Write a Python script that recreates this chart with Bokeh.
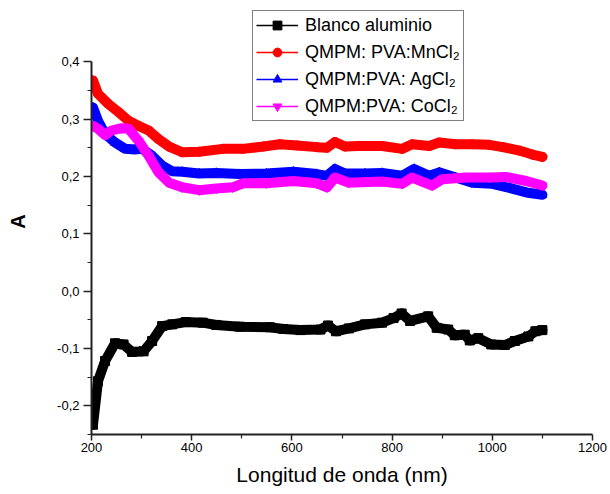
from bokeh.plotting import figure
from bokeh.models import (Range1d, FixedTicker, CustomJSTickFormatter, Legend, LegendItem)
from bokeh.embed import file_html
from bokeh.resources import INLINE

# ---- data ----
black_x = [203, 213, 227, 247, 264, 281, 304, 321, 341, 361, 388, 422, 449, 496, 556, 583, 617,
           657, 672, 688, 714, 746, 780, 803, 819, 836, 872, 889, 912, 925, 945, 955, 972, 998,
           1025, 1045, 1072, 1086, 1100]
black_y = [-0.233, -0.157, -0.122, -0.091, -0.093, -0.106, -0.105, -0.087, -0.061, -0.058, -0.054,
           -0.055, -0.059, -0.062, -0.063, -0.066, -0.068, -0.067, -0.060, -0.070, -0.065, -0.058,
           -0.055, -0.047, -0.039, -0.052, -0.044, -0.064, -0.067, -0.077, -0.076, -0.086, -0.082,
           -0.093, -0.094, -0.087, -0.079, -0.070, -0.068]

red_x = [203, 213, 234, 254, 274, 294, 314, 334, 355, 381, 415, 462, 502, 543, 576, 610, 650, 670,
         686, 706, 733, 780, 820, 840, 874, 894, 927, 960, 994, 1021, 1054, 1080, 1100]
red_y = [0.367, 0.344, 0.326, 0.312, 0.297, 0.288, 0.280, 0.265, 0.252, 0.242, 0.243, 0.248, 0.248,
         0.252, 0.256, 0.254, 0.251, 0.250, 0.260, 0.252, 0.253, 0.253, 0.248, 0.256, 0.253, 0.259,
         0.256, 0.256, 0.255, 0.251, 0.245, 0.238, 0.234]

blue_x = [203, 213, 227, 247, 267, 287, 301, 321, 341, 361, 381, 415, 449, 496, 549, 603, 650, 670,
          686, 706, 746, 780, 820, 844, 874, 894, 927, 960, 1000, 1034, 1068, 1100]
blue_y = [0.320, 0.297, 0.274, 0.259, 0.248, 0.247, 0.248, 0.236, 0.219, 0.209, 0.208, 0.205, 0.206,
          0.204, 0.205, 0.208, 0.204, 0.201, 0.213, 0.205, 0.205, 0.206, 0.201, 0.213, 0.201, 0.207,
          0.198, 0.189, 0.187, 0.180, 0.172, 0.168]

mag_x = [203, 213, 227, 240, 260, 274, 294, 314, 334, 355, 381, 415, 449, 482, 502, 549, 603, 650,
         670, 686, 713, 780, 820, 840, 880, 900, 947, 994, 1027, 1068, 1100]
mag_y = [0.288, 0.283, 0.272, 0.280, 0.284, 0.283, 0.262, 0.236, 0.207, 0.189, 0.181, 0.176, 0.179,
         0.181, 0.188, 0.188, 0.192, 0.188, 0.181, 0.198, 0.189, 0.191, 0.187, 0.198, 0.184, 0.195,
         0.198, 0.198, 0.199, 0.192, 0.184]

labels = ["Blanco aluminio", "QMPM: PVA:MnCl\u2082", "QMPM:PVA: AgCl\u2082", "QMPM:PVA: CoCl\u2082"]
colors = ["#000000", "#FF0000", "#0000FF", "#FF00FF"]
markers = ["square", "circle", "triangle", "inverted_triangle"]

y_ticks = [-0.2, -0.1, 0.0, 0.1, 0.2, 0.3, 0.4]
y_minor = [-0.25, -0.15, -0.05, 0.05, 0.15, 0.25, 0.35]
x_ticks = [200, 400, 600, 800, 1000, 1200]
x_minor = [300, 500, 700, 900, 1100]

FONT = "Liberation Sans"

p = figure(width=610, height=494, output_backend="svg", toolbar_location=None,
           x_range=Range1d(200, 1200), y_range=Range1d(-0.25, 0.4927),
           min_border_left=91, min_border_right=18, min_border_top=8, min_border_bottom=60)
p.outline_line_color = None
p.xgrid.visible = False
p.ygrid.visible = False
p.background_fill_color = "white"
p.border_fill_color = "white"

series = [(black_x, black_y), (red_x, red_y), (blue_x, blue_y), (mag_x, mag_y)]
items = []
for (xs, ys), c, m, lab in zip(series, colors, markers, labels):
    sr = p.scatter(xs, ys, marker=m, size=9, fill_color=c, line_color=c)
    p.line(xs, ys, line_color=c, line_width=10, line_join="round", line_cap="round")
    lr = p.line(xs, ys, line_color=c, line_width=1.5)
    items.append(LegendItem(label=lab, renderers=[lr, sr]))

legend = Legend(items=items, location=(161, 313), orientation="vertical",
                label_text_font=FONT, label_text_font_size="18px", label_text_color="black",
                glyph_width=42, glyph_height=22, label_height=22, label_standoff=7,
                spacing=5, padding=3, margin=0,
                border_line_color="black", border_line_width=1,
                background_fill_color="white", background_fill_alpha=1.0)
p.add_layout(legend, "center")

fmt = CustomJSTickFormatter(code="return tick.toFixed(1).replace('.', ',');")
p.yaxis.ticker = FixedTicker(ticks=y_ticks, minor_ticks=y_minor)
p.yaxis.formatter = fmt
p.yaxis.bounds = (-0.25, 0.4)
p.xaxis.ticker = FixedTicker(ticks=x_ticks, minor_ticks=x_minor)

for ax in (p.xaxis[0], p.yaxis[0]):
    ax.axis_line_color = "#222222"
    ax.axis_line_width = 2
    ax.major_tick_line_color = "#222222"
    ax.minor_tick_line_color = "#222222"
    ax.major_tick_line_width = 1.5
    ax.minor_tick_line_width = 1.2
    ax.major_tick_in = 0
    ax.minor_tick_in = 0
    ax.major_label_text_font = FONT
    ax.major_label_text_font_size = "13px"
    ax.major_label_text_color = "black"
    ax.axis_label_text_font = FONT
    ax.axis_label_text_color = "black"

p.yaxis.major_tick_out = 8
p.yaxis.minor_tick_out = 4
p.yaxis.major_label_standoff = 4
p.yaxis.axis_label = "A"
p.yaxis.axis_label_text_font_style = "bold"
p.yaxis.axis_label_text_font_size = "20px"
p.yaxis.axis_label_standoff = 25

p.xaxis.major_tick_out = 6
p.xaxis.minor_tick_out = 4
p.xaxis.major_label_standoff = 2
p.xaxis.axis_label = "Longitud de onda (nm)"
p.xaxis.axis_label_text_font_style = "normal"
p.xaxis.axis_label_text_font_size = "21px"
p.xaxis.axis_label_standoff = 8

open("out.html", "w").write(file_html(p, INLINE))
